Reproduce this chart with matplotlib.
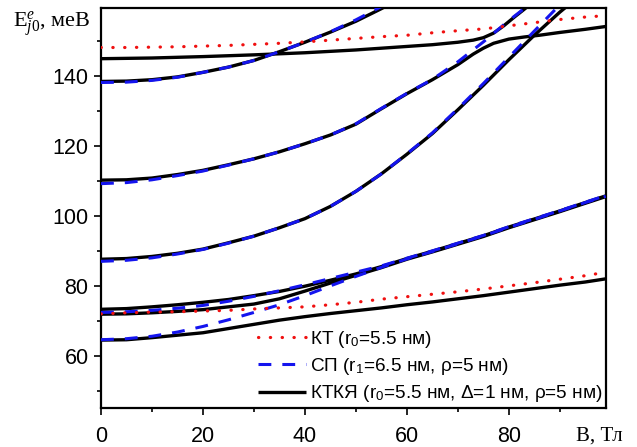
import matplotlib
matplotlib.use("Agg")
import matplotlib.pyplot as plt

# ---------------- data ----------------
B = [0, 5, 10, 15, 20, 25, 30, 35, 40, 45, 50, 55, 60, 65, 70, 75, 80, 85, 90, 95, 99]

# KT (quantum dot), red dotted
kt_upper = [148.1, 148.1, 148.2, 148.3, 148.5, 148.7, 149.0, 149.3, 149.7, 150.2, 150.7,
            151.2, 151.6, 152.3, 152.9, 153.4, 154.3, 155.2, 156.1, 156.8, 157.2]
kt_lower = [72.0, 72.3, 72.5, 72.6, 72.8, 73.0, 73.4, 73.7, 74.0, 74.6, 75.3,
            76.2, 76.9, 77.6, 78.3, 79.1, 80.0, 80.9, 81.9, 82.9, 83.9]

# KTKYa, black solid
ktk_low = [64.5, 64.6, 65.2, 65.9, 66.6, 67.8, 69.0, 70.2, 71.2, 72.1, 72.9,
           73.7, 74.6, 75.4, 76.3, 77.2, 78.2, 79.2, 80.2, 81.1, 82.0]
ktk_a = [73.3, 73.5, 74.0, 74.6, 75.3, 76.1, 77.2, 78.4, 79.9, 81.6, 83.4,
         85.5, 87.8, 89.9, 92.1, 94.3, 96.8, 99.1, 101.4, 103.8, 105.7]
ktk_b = [71.9, 72.0, 72.3, 72.7, 73.2, 74.0, 74.8, 76.3, 78.5, 80.8, 83.0,
         85.2, 87.6, 89.7, 91.9, 94.1, 96.6, 98.9, 101.2, 103.6, 105.5]

B4 = [0, 5, 10, 15, 20, 25, 30, 35, 40, 45, 50, 55, 60, 65, 70, 75, 80, 85, 90, 92]
ktk_4 = [87.6, 87.8, 88.4, 89.3, 90.5, 92.3, 94.2, 96.6, 99.2, 102.7, 107.0,
         112.0, 117.6, 123.5, 130.3, 137.3, 144.6, 151.6, 158.2, 160.6]

B3 = [0, 5, 10, 15, 20, 25, 30, 35, 40, 45, 50, 55, 60, 65, 70, 73, 75, 77, 80, 83, 86, 90, 95, 99]
ktk_3 = [110.2, 110.3, 110.8, 111.8, 113.0, 114.6, 116.3, 118.3, 120.6, 123.1, 126.2,
         130.6, 134.9, 138.9, 143.2, 146.2, 147.9, 149.3, 150.5, 151.1, 151.6, 152.4, 153.3, 154.1]

B1 = [0, 10, 20, 30, 40, 50, 60, 65, 70, 73, 75, 77, 79, 81, 83, 85]
ktk_1 = [144.9, 145.1, 145.5, 146.0, 146.6, 147.4, 148.4, 148.9, 149.6, 150.2,
         150.9, 152.2, 154.3, 156.7, 159.0, 161.4]

B2 = [0, 5, 10, 15, 20, 25, 30, 35, 40, 45, 50, 55, 57]
ktk_2 = [138.4, 138.5, 138.9, 139.7, 141.0, 142.5, 144.4, 146.9, 149.6, 152.5, 155.6, 159.2, 160.8]

# SP (spherical layer), blue dashed
sp_low1 = [64.6, 64.9, 65.6, 66.8, 68.4, 70.3, 72.4, 74.6, 77.2, 80.0, 82.7,
           85.3, 87.7, 89.8, 92.0, 94.3, 96.7, 99.0, 101.4, 103.8, 105.6]
sp_low2 = [72.4, 72.6, 73.0, 73.6, 74.4, 75.6, 77.0, 78.6, 80.3, 82.1, 83.9,
           85.7, 87.9, 90.0, 92.2, 94.4, 96.9, 99.2, 101.5, 103.9, 105.8]
Bs4 = [0, 5, 10, 15, 20, 25, 30, 35, 40, 45, 50, 55, 60, 65, 70, 75, 80, 85, 90]
sp_4 = [87.0, 87.3, 88.0, 89.1, 90.4, 92.2, 94.2, 96.6, 99.2, 102.7, 107.0,
        112.0, 117.7, 123.7, 130.6, 137.8, 145.3, 152.8, 160.3]
Bs3 = [0, 5, 10, 15, 20, 25, 30, 35, 40, 45, 50, 55, 60, 65, 70, 75, 80, 85]
sp_3 = [109.2, 109.5, 110.3, 111.5, 112.8, 114.5, 116.3, 118.3, 120.6, 123.1, 126.3,
        130.7, 135.0, 139.0, 144.0, 149.7, 155.8, 161.5]
Bs2 = [0, 5, 10, 15, 20, 25, 30, 35, 40, 45, 50, 55, 57]
sp_2 = [138.1, 138.2, 138.7, 139.6, 141.0, 142.5, 144.4, 146.9, 149.6, 152.6, 156.0, 159.8, 161.4]

labels = ["КТ (r$_\\mathsf{0}$=5.5 нм)",
          "СП (r$_\\mathsf{1}$=6.5 нм, ρ=5 нм)",
          "КТКЯ (r$_\\mathsf{0}$=5.5 нм, Δ=1 нм, ρ=5 нм)"]
xticks = [0, 20, 40, 60, 80]
yticks = [60, 80, 100, 120, 140]

# ---------------- styling ----------------
plt.rcParams['font.family'] = ['Liberation Sans', 'DejaVu Sans']
plt.rcParams['mathtext.fontset'] = 'custom'
plt.rcParams['mathtext.rm'] = 'Liberation Serif'
plt.rcParams['mathtext.it'] = 'Liberation Serif:italic'
plt.rcParams['mathtext.sf'] = 'Liberation Sans'

fig = plt.figure(figsize=(6.37, 4.47), dpi=100)
ax = fig.add_axes([101/637, 39/447, 504.7/637, 399.7/447])

blk = dict(color='black', lw=2.4, solid_capstyle='butt', zorder=2)
blu = dict(color='#1414ee', lw=2.2, ls=(0, (4.2, 3.6)), zorder=3)
red = dict(color='#f01010', lw=2.3, ls=(0, (0.1, 3.6)), dash_capstyle='round', zorder=4)

for xs, ys in [(B, ktk_low), (B, ktk_a), (B, ktk_b), (B4, ktk_4), (B3, ktk_3),
               (B1, ktk_1), (B2, ktk_2)]:
    ax.plot(xs, ys, **blk)
for xs, ys in [(B, sp_low1), (B, sp_low2), (Bs4, sp_4), (Bs3, sp_3), (Bs2, sp_2)]:
    ax.plot(xs, ys, **blu)
for ys in [kt_upper, kt_lower]:
    ax.plot(B, ys, **red)

h_red, = ax.plot([], [], **red)
h_blu, = ax.plot([], [], **blu)
h_blk, = ax.plot([], [], **blk)

ax.set_xlim(0, 99)
ax.set_ylim(45.1, 159.3)
ax.set_xticks(xticks)
ax.set_yticks(yticks)
ax.set_xticks([10, 30, 50, 70, 90], minor=True)
ax.set_yticks([50, 70, 90, 110, 130, 150], minor=True)
ax.tick_params(which='major', direction='out', length=5, width=1.2, labelsize=15.5)
ax.tick_params(axis='x', which='major', pad=8)
ax.tick_params(axis='y', which='major', pad=4)
ax.tick_params(which='minor', direction='out', length=3, width=1.2)
for s in ax.spines.values():
    s.set_linewidth(1.6)

leg = ax.legend([h_red, h_blu, h_blk], labels, loc='upper left',
                bbox_to_anchor=(0.312, 0.198), frameon=False, fontsize=13.7,
                handlelength=2.5, handletextpad=0.2, labelspacing=0.33,
                borderpad=0, borderaxespad=0)

fig.text(13/637, 1 - 28/447, r"$\mathrm{E}_{j0}^{e}$, меВ", family='Liberation Serif',
         fontsize=16, ha='left', va='baseline')
fig.text(576/637, 1 - 441/447, "B, Тл", family='Liberation Serif',
         fontsize=15, ha='left', va='baseline')

fig.savefig("out.png", dpi=100)
